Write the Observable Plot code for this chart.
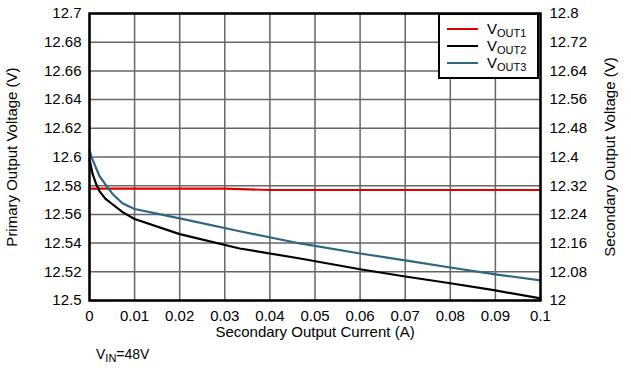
<!DOCTYPE html>
<html>
<head>
<meta charset="utf-8">
<script src="https://cdn.jsdelivr.net/npm/d3@7"></script>
<script src="https://cdn.jsdelivr.net/npm/@observablehq/plot@0.6"></script>
<style>
  html, body { margin: 0; padding: 0; background: #fff; }
  #wrap { position: relative; width: 631px; height: 374px; font-family: "Liberation Sans", Arial, sans-serif; color: #000; }
  #legend { position: absolute; left: 438px; top: 13px; width: 101px; height: 66px; box-sizing: border-box; border: 2px solid #000; background: #fff; padding-top: 5px; }
  .row { display: flex; align-items: center; height: 17px; font-size: 15px; }
  .row svg { margin-left: 7px; margin-right: 9px; }
  .sub { font-size: 11px; position: relative; top: 3px; }
  #caption { position: absolute; left: 96px; top: 346px; font-size: 14px; }
</style>
</head>
<body>
<div id="wrap"></div>
<script>
// ---- data ----
const xTicks = [0, 0.01, 0.02, 0.03, 0.04, 0.05, 0.06, 0.07, 0.08, 0.09, 0.1];
const yTicks = [12.5, 12.52, 12.54, 12.56, 12.58, 12.6, 12.62, 12.64, 12.66, 12.68, 12.7];
const y2Ticks = [12, 12.08, 12.16, 12.24, 12.32, 12.4, 12.48, 12.56, 12.64, 12.72, 12.8];

const seriesNames = ["OUT1", "OUT2", "OUT3"];
const seriesColors = ["#e00000", "#000000", "#2e6580"];

// VOUT1 on the primary (left) axis
const vout1I = [0, 0.01, 0.02, 0.03, 0.04, 0.05, 0.06, 0.07, 0.08, 0.09, 0.1];
const vout1V = [12.578, 12.578, 12.578, 12.578, 12.577, 12.577, 12.577, 12.577, 12.577, 12.577, 12.577];

// VOUT2 and VOUT3 on the secondary (right) axis
const vout2I = [0, 0.0004, 0.0007, 0.0015, 0.0022, 0.0035, 0.005, 0.0075, 0.01, 0.02, 0.0333, 0.0467, 0.06, 0.07, 0.08, 0.09, 0.1];
const vout2V = [12.394, 12.37, 12.352, 12.324, 12.305, 12.284, 12.269, 12.245, 12.227, 12.185, 12.145, 12.117, 12.087, 12.067, 12.048, 12.028, 12.006];

const vout3I = [0, 0.0005, 0.0011, 0.0022, 0.0038, 0.0051, 0.0073, 0.01, 0.02, 0.0333, 0.0467, 0.06, 0.07, 0.08, 0.09, 0.1];
const vout3V = [12.42, 12.398, 12.38, 12.347, 12.319, 12.297, 12.271, 12.255, 12.229, 12.193, 12.159, 12.131, 12.112, 12.092, 12.073, 12.056];

// ---- secondary axis mapping (12..12.8 onto 12.5..12.7) ----
const p0 = 12.5, p1 = 12.7, s0 = 12, s1 = 12.8;
const toPrimary = s => p0 + (s - s0) * (p1 - p0) / (s1 - s0);

const rows = (I, V, name, map) => I.map((x, i) => ({x, y: map ? toPrimary(V[i]) : V[i], name}));
const data = [
  ...rows(vout1I, vout1V, seriesNames[0], false),
  ...rows(vout2I, vout2V, seriesNames[1], true),
  ...rows(vout3I, vout3V, seriesNames[2], true)
];

const fmt = d3.format("~g");
const gridStyle = {stroke: "#666", strokeOpacity: 1, strokeWidth: 1.5};

const chart = Plot.plot({
  width: 631,
  height: 340,
  marginLeft: 89,
  marginRight: 91,
  marginTop: 13,
  marginBottom: 40,
  style: {fontFamily: "'Liberation Sans', Arial, sans-serif", fontSize: "15px", background: "#fff", overflow: "visible"},
  x: {domain: [0, 0.1]},
  y: {domain: [p0, p1]},
  color: {domain: seriesNames, range: seriesColors},
  marks: [
    Plot.gridX(xTicks, gridStyle),
    Plot.gridY(yTicks, gridStyle),
    Plot.line(data, {x: "x", y: "y", z: "name", stroke: "name", strokeWidth: 2.2, curve: "linear"}),
    Plot.frame({stroke: "#000", strokeWidth: 2.5}),
    Plot.axisX(xTicks, {tickSize: 0, tickPadding: 10, tickFormat: fmt,
      label: "Secondary Output Current (A)", labelAnchor: "center", labelArrow: "none", labelOffset: 36}),
    Plot.axisY(yTicks, {anchor: "left", tickSize: 0, tickPadding: 8, tickFormat: fmt,
      label: "Primary Output Voltage (V)", labelAnchor: "center", labelArrow: "none", labelOffset: 83}),
    Plot.axisY(y2Ticks.map(toPrimary), {anchor: "right", tickSize: 0, tickPadding: 9,
      tickFormat: (d, i) => fmt(y2Ticks[i]),
      label: "Secondary Output Voltage (V)", labelAnchor: "center", labelArrow: "none", labelOffset: 74})
  ]
});

const wrap = document.getElementById("wrap");
wrap.appendChild(chart);

// legend (inside the plot area, top right)
const legend = document.createElement("div");
legend.id = "legend";
seriesNames.forEach((n, i) => {
  const r = document.createElement("div");
  r.className = "row";
  r.innerHTML = `<svg width="31" height="4"><line x1="0" x2="31" y1="2" y2="2" stroke="${seriesColors[i]}" stroke-width="2"/></svg><span>V<span class="sub">${n}</span></span>`;
  legend.appendChild(r);
});
wrap.appendChild(legend);

const cap = document.createElement("div");
cap.id = "caption";
cap.innerHTML = `V<span class="sub">IN</span>=48V`;
wrap.appendChild(cap);
</script>
</body>
</html>
